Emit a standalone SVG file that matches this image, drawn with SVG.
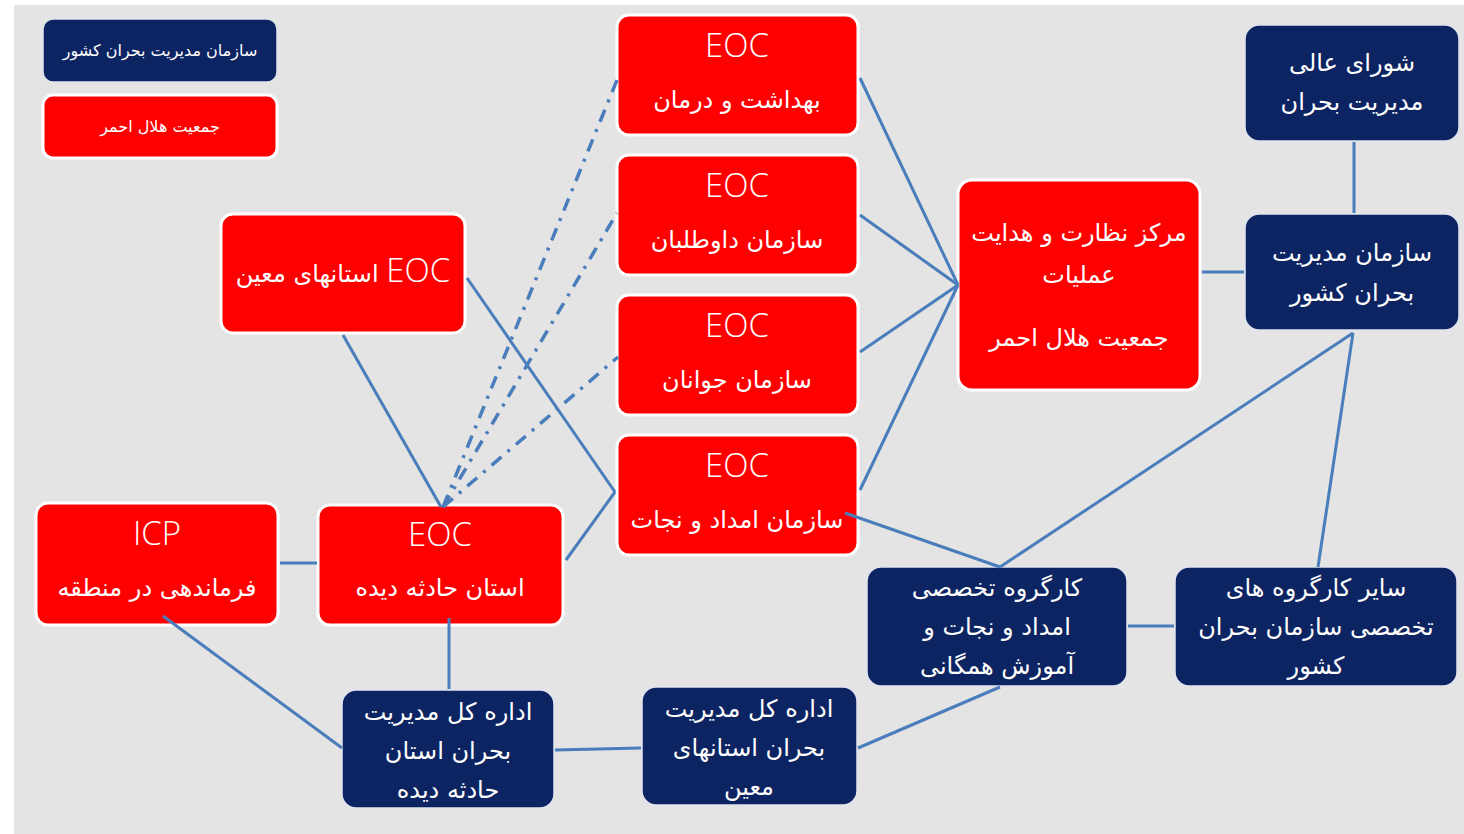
<svg xmlns="http://www.w3.org/2000/svg" width="1464" height="834" viewBox="0 0 1464 834">
<style>
.red{fill:#fe0000;stroke:#ffffff;stroke-width:3}
.navy{fill:#0c2461;stroke:#dfe4ee;stroke-width:1.5}
.t{font-family:"DejaVu Sans","Noto Sans",sans-serif;fill:#ffffff;text-anchor:middle;font-size:24px;direction:rtl}
.s{font-size:16px}
.eoc{font-family:"Open Sans","Lato",sans-serif;font-weight:300;fill:#ffffff;text-anchor:middle;font-size:33px}
.ei{font-family:"Open Sans","Lato",sans-serif;font-weight:300;font-size:33px}
.ln{stroke:#4a7dbb;stroke-width:3;fill:none}
.dd{stroke:#4a7dbb;stroke-width:3.5;fill:none;stroke-dasharray:13 8 3 8}
</style>
<rect x="0" y="0" width="1464" height="834" fill="#ffffff"/>
<rect x="14" y="5" width="1450" height="829" fill="#e4e4e4"/>
<g id="legend-navy"><rect class="navy" x="43" y="19" width="234" height="63" rx="10"/><text class="t s" x="160" y="56">سازمان مدیریت بحران کشور</text></g>
<g id="legend-red"><rect class="red" x="43" y="95" width="234" height="63" rx="10" stroke-width="1"/><text class="t s" x="160" y="132">جمعیت هلال احمر</text></g>
<g id="eoc-health"><rect class="red" x="617" y="15" width="241" height="120" rx="12"/><text class="eoc" x="737" y="57">EOC</text><text class="t" x="737" y="108">بهداشت و درمان</text></g>
<g id="eoc-volunteers"><rect class="red" x="617" y="155" width="241" height="120" rx="12"/><text class="eoc" x="737" y="197">EOC</text><text class="t" x="737" y="248">سازمان داوطلبان</text></g>
<g id="eoc-youth"><rect class="red" x="617" y="295" width="241" height="120" rx="12"/><text class="eoc" x="737" y="337">EOC</text><text class="t" x="737" y="388">سازمان جوانان</text></g>
<g id="eoc-rescue"><rect class="red" x="617" y="435" width="241" height="120" rx="12"/><text class="eoc" x="737" y="477">EOC</text><text class="t" x="737" y="528">سازمان امداد و نجات</text></g>
<g id="eoc-supporting"><rect class="red" x="221" y="214" width="244" height="119" rx="12"/><text class="t" x="343" y="282"><tspan class="ei">EOC</tspan> استانهای معین</text></g>
<g id="hq"><rect class="red" x="958" y="180" width="242" height="210" rx="14"/><text class="t" x="1079" y="241">مرکز نظارت و هدایت</text><text class="t" x="1079" y="283">عملیات</text><text class="t" x="1079" y="346">جمعیت هلال احمر</text></g>
<g id="council"><rect class="navy" x="1245" y="25" width="214" height="116" rx="14"/><text class="t" x="1352" y="71">شورای عالی</text><text class="t" x="1352" y="110">مدیریت بحران</text></g>
<g id="national"><rect class="navy" x="1245" y="214" width="214" height="116" rx="14"/><text class="t" x="1352" y="261">سازمان مدیریت</text><text class="t" x="1352" y="301">بحران کشور</text></g>
<g id="icp"><rect class="red" x="36" y="503" width="242" height="122" rx="12"/><text class="eoc" x="157" y="545">ICP</text><text class="t" x="157" y="596">فرماندهی در منطقه</text></g>
<g id="eoc-province"><rect class="red" x="318" y="505" width="245" height="120" rx="12"/><text class="eoc" x="440" y="546">EOC</text><text class="t" x="440" y="596">استان حادثه دیده</text></g>
<g id="wg-rescue"><rect class="navy" x="867" y="567" width="260" height="119" rx="14"/><text class="t" x="997" y="596">کارگروه تخصصی</text><text class="t" x="997" y="635">امداد و نجات و</text><text class="t" x="997" y="674">آموزش همگانی</text></g>
<g id="wg-other"><rect class="navy" x="1175" y="567" width="282" height="119" rx="14"/><text class="t" x="1316" y="596">سایر کارگروه های</text><text class="t" x="1316" y="635">تخصصی سازمان بحران</text><text class="t" x="1316" y="674">کشور</text></g>
<g id="dg-province"><rect class="navy" x="342" y="690" width="212" height="118" rx="14"/><text class="t" x="448" y="720">اداره کل مدیریت</text><text class="t" x="448" y="759">بحران استان</text><text class="t" x="448" y="798">حادثه دیده</text></g>
<g id="dg-supporting"><rect class="navy" x="642" y="687" width="215" height="118" rx="14"/><text class="t" x="749" y="717">اداره کل مدیریت</text><text class="t" x="749" y="756">بحران استانهای</text><text class="t" x="749" y="795">معین</text></g>
<g id="connectors">
<line class="ln" x1="860" y1="78" x2="958" y2="285"/>
<line class="ln" x1="860" y1="215" x2="958" y2="285"/>
<line class="ln" x1="860" y1="352" x2="958" y2="285"/>
<line class="ln" x1="860" y1="490" x2="958" y2="285"/>
<line class="ln" x1="1202" y1="272" x2="1244" y2="272"/>
<line class="ln" x1="1354" y1="142" x2="1354" y2="213"/>
<line class="ln" x1="1353" y1="333" x2="1000" y2="567"/>
<line class="ln" x1="1353" y1="333" x2="1318" y2="567"/>
<line class="ln" x1="845" y1="513" x2="1000" y2="567"/>
<line class="ln" x1="1128" y1="626" x2="1174" y2="626"/>
<line class="ln" x1="1000" y1="687" x2="858" y2="748"/>
<line class="ln" x1="641" y1="748" x2="555" y2="750"/>
<line class="ln" x1="449" y1="618" x2="449" y2="689"/>
<line class="ln" x1="163" y1="616" x2="342" y2="748"/>
<line class="ln" x1="280" y1="563" x2="317" y2="563"/>
<line class="ln" x1="343" y1="335" x2="441" y2="507"/>
<line class="ln" x1="467" y1="278" x2="615" y2="492"/>
<line class="ln" x1="566" y1="560" x2="615" y2="492"/>
<line class="dd" x1="443" y1="507" x2="617" y2="80"/>
<line class="dd" x1="443" y1="507" x2="617" y2="213"/>
<line class="dd" x1="443" y1="507" x2="618" y2="357"/>
</g>
</svg>
